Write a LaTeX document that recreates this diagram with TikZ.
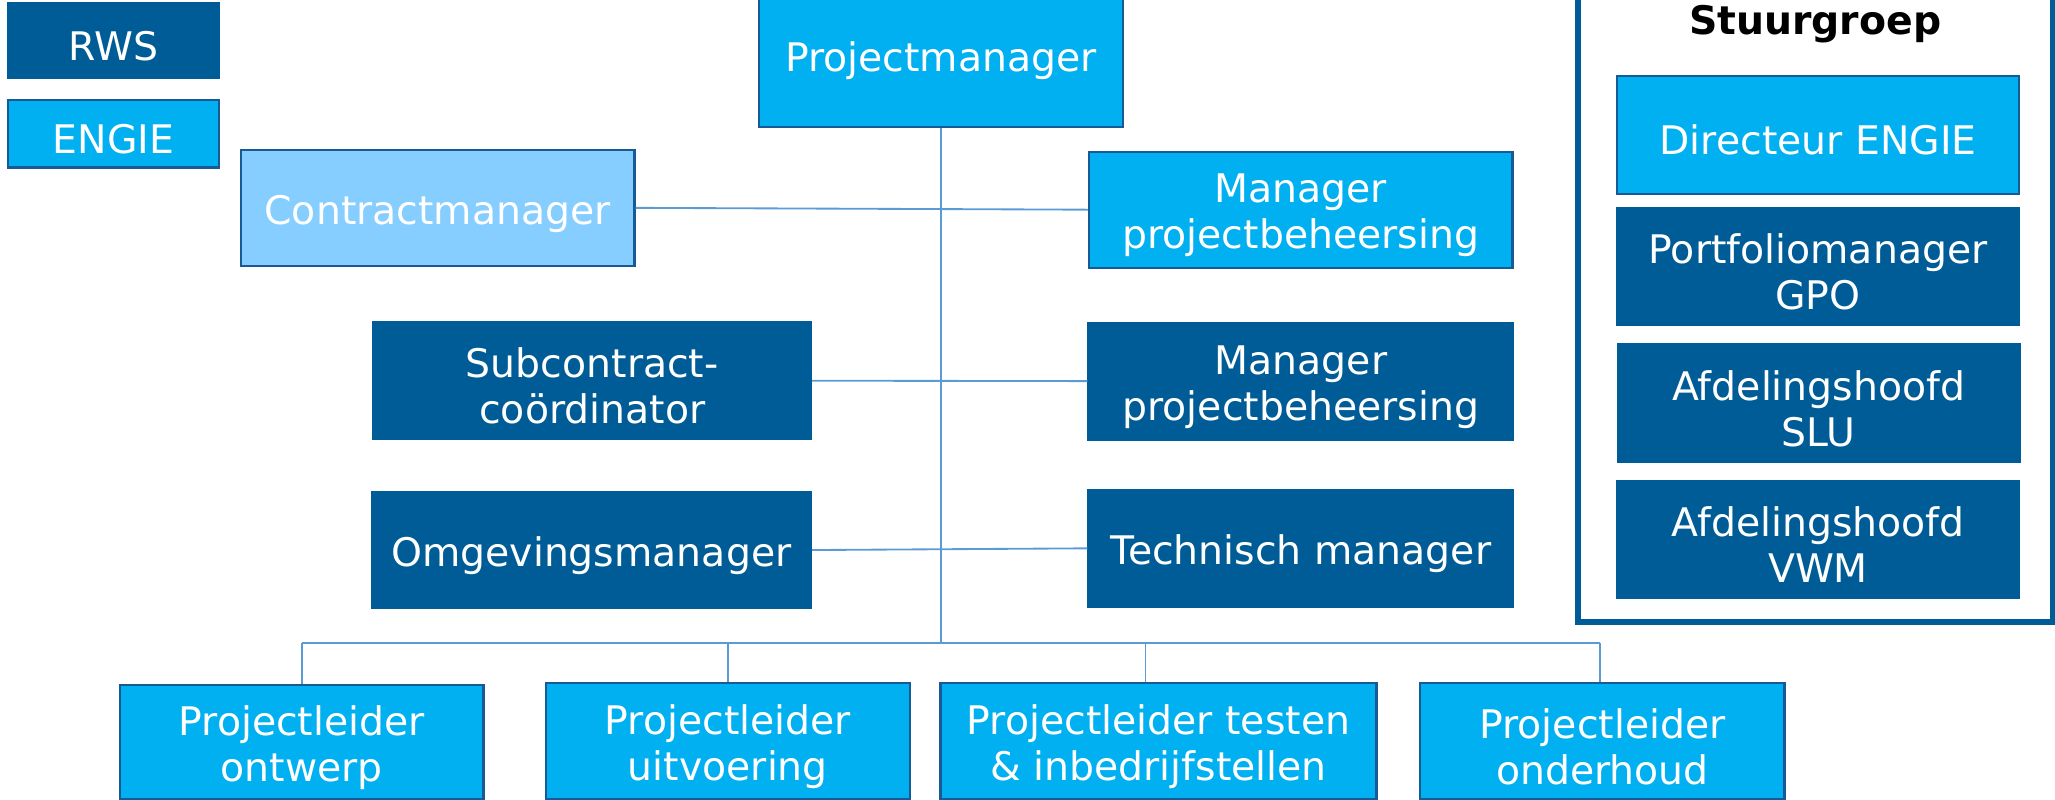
\documentclass[tikz,border=0pt]{standalone}
\usepackage{fontspec}
\setmainfont{DejaVu Sans}
\definecolor{rws}{RGB}{0,92,150}
\definecolor{engie}{RGB}{0,176,240}
\definecolor{light}{RGB}{133,206,255}
\definecolor{edge}{RGB}{24,90,150}
\definecolor{conn}{RGB}{91,155,213}
\newcommand{\tup}{\rule{0pt}{8.8pt}}
\tikzset{
  base/.style={rectangle, inner sep=0pt, align=center, text=white,
    font=\fontsize{8.54pt}{9.96pt}\selectfont},
  rwsbox/.style={base, fill=rws, draw=rws, line width=0.4pt},
  engiebox/.style={base, fill=engie, draw=edge, line width=0.5pt},
  lightbox/.style={base, fill=light, draw=edge, line width=0.5pt},
  link/.style={draw=conn, line width=0.4pt},
}
\begin{document}
\begin{tikzpicture}[x=0.01cm, y=-0.01cm]
\useasboundingbox (0,0) rectangle (1568,610);
% legend
\node[rwsbox, minimum width=1.61cm, minimum height=0.573cm] (rws) at (86.5,31.2) {\tup RWS};
\node[engiebox, minimum width=1.61cm, minimum height=0.514cm] (engie) at (86.5,102) {\tup ENGIE};
% main tree
\node[engiebox, minimum width=2.771cm, minimum height=1.094cm] (pm) at (718,42) {\tup Projectmanager};
\node[lightbox, minimum width=3.003cm, minimum height=0.883cm] (cm) at (333.9,158.6) {\tup Contractmanager};
\node[engiebox, minimum width=3.23cm, minimum height=0.885cm] (mpba) at (992.5,160) {\tup Manager\\projectbeheersing};
\node[rwsbox, minimum width=3.339cm, minimum height=0.891cm] (sub) at (451.9,290.5) {\tup Subcontract-\\coördinator};
\node[rwsbox, minimum width=3.242cm, minimum height=0.893cm] (mpbb) at (992.6,290.8) {\tup Manager\\projectbeheersing};
\node[rwsbox, minimum width=3.352cm, minimum height=0.891cm] (omg) at (451.2,419.7) {\tup Omgevingsmanager};
\node[rwsbox, minimum width=3.242cm, minimum height=0.893cm] (tech) at (992.6,418.4) {\tup Technisch manager};
\node[engiebox, minimum width=2.774cm, minimum height=0.87cm] (pla) at (230.2,566.2) {\tup Projectleider\\ontwerp};
\node[engiebox, minimum width=2.779cm, minimum height=0.883cm] (plb) at (555.4,565.5) {\tup Projectleider\\uitvoering};
\node[engiebox, minimum width=3.324cm, minimum height=0.883cm] (plc) at (884,565.5) {\tup Projectleider testen\\\& inbedrijfstellen};
\node[engiebox, minimum width=2.778cm, minimum height=0.883cm] (pld) at (1222.7,565.5) {\tup Projectleider\\onderhoud};
% connectors
\coordinate (hub) at (718,490.4);
\coordinate (busl) at (230.2,490.4);
\coordinate (busr) at (1221,490.4);
\coordinate (dropc) at (874,490.4);
\path[link] (cm.east) -- (mpba.west);
\path[link] (sub.east) -- (mpbb.west);
\path[link] (omg.east) -- (tech.west);
\path[link] (pm.south) -- (hub);
\path[link] (busl) -- (busr);
\path[link] (busl) -- (pla.north);
\path[link] (plb.north |- hub) -- (plb.north);
\path[link] (dropc) -- (dropc |- plc.north);
\path[link] (busr) -- (busr |- pld.north);
% Stuurgroep
\node[draw=rws, line width=1.22pt, rectangle, inner sep=0pt, minimum width=3.62cm, minimum height=4.845cm] (sg) at (1385,232) {};
\node[anchor=base, font=\fontsize{8.54pt}{9.96pt}\selectfont\bfseries] (sgt) at (1385,26) {Stuurgroep};
\node[engiebox, minimum width=3.061cm, minimum height=0.896cm] (dir) at (1387.2,103) {\tup Directeur ENGIE};
\node[rwsbox, minimum width=3.061cm, minimum height=0.889cm] (port) at (1387.2,203.3) {\tup Portfoliomanager\\GPO};
\node[rwsbox, minimum width=3.064cm, minimum height=0.898cm] (slu) at (1387.8,307.6) {\tup Afdelingshoofd\\SLU};
\node[rwsbox, minimum width=3.061cm, minimum height=0.892cm] (vwm) at (1387.2,411.6) {\tup Afdelingshoofd\\VWM};
\end{tikzpicture}
\end{document}
